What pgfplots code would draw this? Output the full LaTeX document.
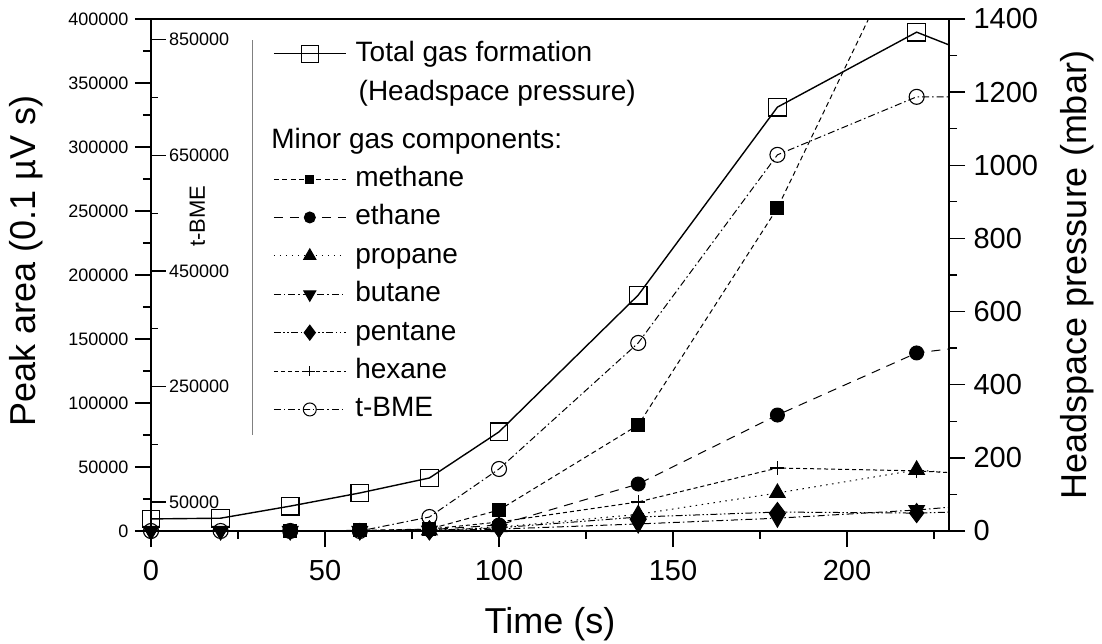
\documentclass[border=0pt]{standalone}
\usepackage{fontspec}
\setmainfont{Liberation Sans}
\usepackage{pgfplots}
\pgfplotsset{compat=1.18}

\newcommand{\smallfont}{\fontsize{18}{18}\selectfont}
\newcommand{\tickfont}{\fontsize{29}{29}\selectfont}
\newcommand{\labelfont}{\fontsize{36}{36}\selectfont}
\newcommand{\legfont}{\fontsize{28}{28}\selectfont}

\pgfplotsset{
  frame/.style={
    scale only axis, width=798pt, height=512pt,
    at={(0pt,0pt)}, anchor=south west,
    xmin=0, xmax=229.3,
    axis line style={line width=1.4pt},
    tick style={line width=1.3pt, black},
    major tick length=16pt, minor tick length=8pt,
    tick align=outside,
    /pgf/number format/fixed,
    /pgf/number format/1000 sep={},
    /pgf/number format/assume math mode=true,
    scaled y ticks=false,
  },
  sample/.style={
    legend image code/.code={%
      \draw[mark repeat=2,mark phase=2,##1] plot coordinates {(0pt,0pt) (36pt,0pt) (72pt,0pt)};},
  },
  keybox/.style={
    draw=none, fill=none, inner sep=0pt,
    font=\legfont, row sep=5.4pt, column sep=6pt,
    nodes={inner sep=3pt, text height=21pt, text depth=6pt},
  },
  methane/.style={black, line width=1pt, dash pattern=on 5pt off 3.5pt},
  ethane/.style={black, line width=1pt, dash pattern=on 9pt off 7pt},
  propane/.style={black, line width=1pt, dash pattern=on 1.5pt off 4.5pt},
  butane/.style={black, line width=1pt, dash pattern=on 7pt off 3pt on 1.5pt off 3pt},
  pentane/.style={black, line width=1pt, dash pattern=on 7pt off 2.5pt on 1.5pt off 2.5pt on 1.5pt off 2.5pt},
  hexane/.style={black, line width=1pt, dash pattern=on 4pt off 3pt},
  tbme/.style={black, line width=1pt, dash pattern=on 7pt off 3pt on 1.5pt off 3pt},
  total/.style={black, line width=1.4pt},
}

\begin{document}
\begin{tikzpicture}

% Minor gas components: peak area
\begin{axis}[frame,
  ymin=0, ymax=400000,
  xtick={0,50,100,150,200}, minor xtick={25,75,125,175,225},
  ytick={0,50000,100000,150000,200000,250000,300000,350000,400000},
  minor ytick={25000,75000,125000,175000,225000,275000,325000,375000},
  xtick pos=bottom, ytick pos=left,
  xticklabel style={font=\tickfont, yshift=-10pt},
  yticklabel style={font=\smallfont, xshift=-3pt},
  xlabel={Time (s)}, ylabel={Peak area (0.1 µV s)},
  label style={font=\labelfont},
  xlabel style={at={(axis description cs:0.5,-0.182)}, anchor=center},
  ylabel style={at={(axis description cs:-0.157,0.527)}, anchor=center},
  legend style={keybox, at={(axis description cs:0.153,0.795)}, anchor=north west},
  legend cell align=left, sample,
]
\addplot[methane, mark=square*, mark size=6.5pt, mark options={solid}, mark indices={3,4,5,6,7,8}, forget plot]
  coordinates {(0,0) (20,0) (40,0) (60,500) (80,1500) (100,16400) (140,82800) (180,252300) (220,478000)};
\addplot[ethane, mark=*, mark size=7pt, mark options={solid}, mark indices={5,6,7,8,9}, forget plot]
  coordinates {(0,0) (20,0) (40,0) (60,0) (80,1000) (100,4700) (140,36700) (180,90600) (220,139100) (240,145800)};
\addplot[propane, mark=triangle*, mark size=9pt, mark options={solid}, mark indices={5,6,7,8,9}, forget plot]
  coordinates {(0,0) (20,0) (40,0) (60,0) (80,500) (100,3000) (140,13000) (180,29700) (220,47700) (240,43000)};
\addplot[butane, mark=triangle*, mark size=9pt, mark options={solid, rotate=180}, mark indices={1,2,3,4,5,6,7,8,9}, forget plot]
  coordinates {(0,0) (20,0) (40,0) (60,0) (80,300) (100,1500) (140,5500) (180,10000) (220,16400) (240,21000)};
\addplot[pentane, mark=diamond*, mark size=9.5pt, mark options={solid}, mark indices={5,6,7,8,9}, forget plot]
  coordinates {(0,0) (20,0) (40,0) (60,0) (80,500) (100,2500) (140,10900) (180,14800) (220,14000) (240,15500)};
\addplot[hexane, mark=+, mark size=7pt, mark options={solid, line width=1.2pt}, mark indices={5,6,7,8,9}, forget plot]
  coordinates {(0,0) (20,0) (40,0) (60,0) (80,1500) (100,7000) (140,22700) (180,49200) (220,47000) (240,44000)};

% frame of the key
\draw[gray, line width=0.8pt] (rel axis cs:0.1266,0.1875) -- (rel axis cs:0.1266,0.959);

\addlegendimage{empty legend}
\addlegendentry{\hspace*{-84pt}Minor gas components:}
\addlegendimage{methane, mark=square*, mark size=4pt, mark options={solid}}
\addlegendentry{methane}
\addlegendimage{ethane, mark=*, mark size=5.5pt, mark options={solid}}
\addlegendentry{ethane}
\addlegendimage{propane, mark=triangle*, mark size=7pt, mark options={solid}}
\addlegendentry{propane}
\addlegendimage{butane, mark=triangle*, mark size=7pt, mark options={solid, rotate=180}}
\addlegendentry{butane}
\addlegendimage{pentane, mark=diamond*, mark size=7.5pt, mark options={solid}}
\addlegendentry{pentane}
\addlegendimage{hexane, mark=+, mark size=5pt, mark options={solid}}
\addlegendentry{hexane}
\addlegendimage{tbme, mark=o, mark size=6.5pt, mark options={solid, fill=white}}
\addlegendentry{t-BME}
\end{axis}

% t-BME scale, drawn inside the left frame
\begin{axis}[frame,
  ymin=0, ymax=886000,
  axis x line=none, axis y line*=left,
  tick align=inside, major tick length=15pt, minor tick length=7pt,
  ytick={50000,250000,450000,650000,850000},
  minor ytick={150000,350000,550000,750000},
  yticklabel style={font=\smallfont, anchor=west, inner sep=0pt, xshift=18pt},
  ylabel={t-BME},
  ylabel style={font=\fontsize{22}{22}\selectfont, at={(axis description cs:0.058,0.615)}, anchor=center},
]
\addplot[tbme, mark=o, mark size=7.5pt, mark options={solid, fill=white, line width=1.1pt}, mark indices={1,2,3,4,5,6,7,8,9}]
  coordinates {(0,0) (20,0) (40,0) (60,0) (80,24200) (100,107300) (140,325400) (180,650900) (220,751300) (240,751300)};
\end{axis}

% Total gas formation: headspace pressure
\begin{axis}[frame,
  ymin=0, ymax=1400,
  axis x line=none, axis y line*=right,
  ytick={0,200,400,600,800,1000,1200,1400},
  minor ytick={100,300,500,700,900,1100,1300},
  yticklabel style={font=\tickfont, xshift=5pt},
  ylabel={Headspace pressure (mbar)},
  ylabel style={font=\labelfont, at={(axis description cs:1.160,0.5)}, anchor=center},
  legend style={keybox, row sep=6pt, at={(axis description cs:0.153,0.965)}, anchor=north west},
  legend cell align=left, sample,
]
\addplot[total, mark=square, mark size=8.8pt, mark options={fill=white, line width=1.2pt}, mark indices={1,2,3,4,5,6,7,8,9}, forget plot]
  coordinates {(0,33) (20,35) (40,68) (60,104) (80,145) (100,271) (140,645) (180,1159) (220,1364) (240,1289)};
\addlegendimage{total, mark=square, mark size=8.5pt, mark options={fill=white, line width=1.2pt}}
\addlegendentry{Total gas formation}
\addlegendimage{empty legend}
\addlegendentry{\hspace*{3pt}(Headspace pressure)}
\end{axis}

\pgfresetboundingbox
\path (-151pt,-113pt) rectangle (951pt,531pt);
\end{tikzpicture}
\end{document}
